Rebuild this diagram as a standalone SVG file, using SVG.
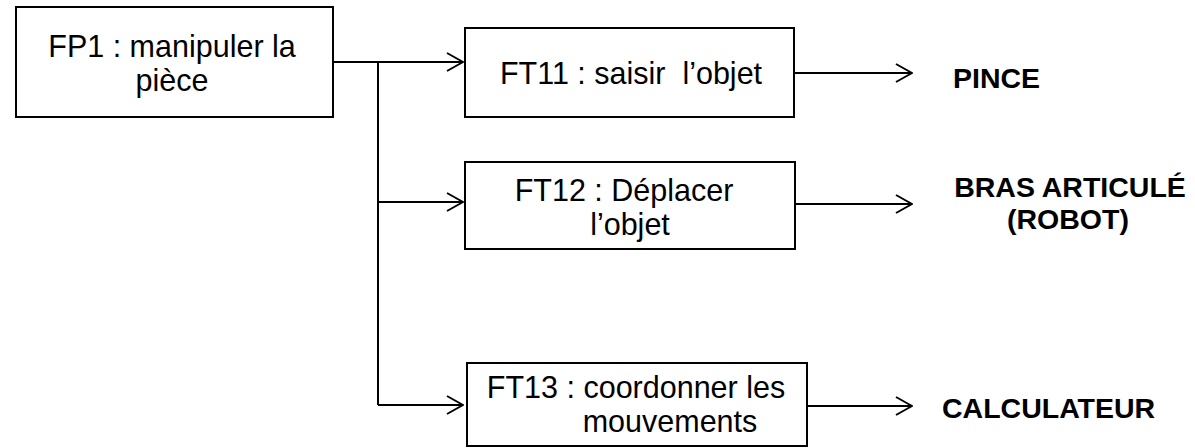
<svg xmlns="http://www.w3.org/2000/svg" width="1195" height="448" viewBox="0 0 1195 448">
<style>
.box{fill:#fff;stroke:#000;stroke-width:2}
.t{font-family:"Liberation Sans",Arial,sans-serif;font-size:30.5px;fill:#000;text-anchor:middle}
.b{font-family:"Liberation Sans",Arial,sans-serif;font-size:28.5px;font-weight:bold;fill:#000}
.c{fill:none;stroke:#000;stroke-width:2}
</style>
<defs>
<marker id="arr" viewBox="0 0 18 20" refX="17" refY="10" markerWidth="18" markerHeight="20" markerUnits="userSpaceOnUse" orient="auto">
<path d="M1,1 L17,10 L1,19" fill="none" stroke="#000" stroke-width="2"/>
</marker>
</defs>
<rect width="1195" height="448" fill="#fff"/>
<g id="connectors">
<path class="c" d="M333,62 H463" marker-end="url(#arr)"/>
<path class="c" d="M378,62 V405"/>
<path class="c" d="M378,202 H463" marker-end="url(#arr)"/>
<path class="c" d="M378,405 H463" marker-end="url(#arr)"/>
<path class="c" d="M794,73 H912" marker-end="url(#arr)"/>
<path class="c" d="M795,204 H912" marker-end="url(#arr)"/>
<path class="c" d="M807,406 H912" marker-end="url(#arr)"/>
</g>
<g id="FP1">
<rect class="box" x="16" y="7" width="317" height="110"/>
<text class="t" x="172" y="57">FP1 : manipuler la</text>
<text class="t" x="172" y="91">pièce</text>
</g>
<g id="FT11">
<rect class="box" x="465" y="28" width="329" height="89"/>
<text class="t" x="631" y="84" xml:space="preserve">FT11 : saisir  l’objet</text>
</g>
<g id="FT12">
<rect class="box" x="465" y="162" width="330" height="87"/>
<text class="t" x="624" y="201">FT12 : Déplacer</text>
<text class="t" x="630" y="235">l’objet</text>
</g>
<g id="FT13">
<rect class="box" x="467" y="363" width="340" height="83"/>
<text class="t" x="636" y="398">FT13 : coordonner les</text>
<text class="t" x="670" y="432">mouvements</text>
</g>
<g id="PINCE">
<text class="b" x="953" y="88">PINCE</text>
</g>
<g id="BRAS">
<text class="b" x="1070" y="197" text-anchor="middle">BRAS ARTICULÉ</text>
<text class="b" x="1068" y="229" text-anchor="middle">(ROBOT)</text>
</g>
<g id="CALCULATEUR">
<text class="b" x="942" y="418">CALCULATEUR</text>
</g>
</svg>
